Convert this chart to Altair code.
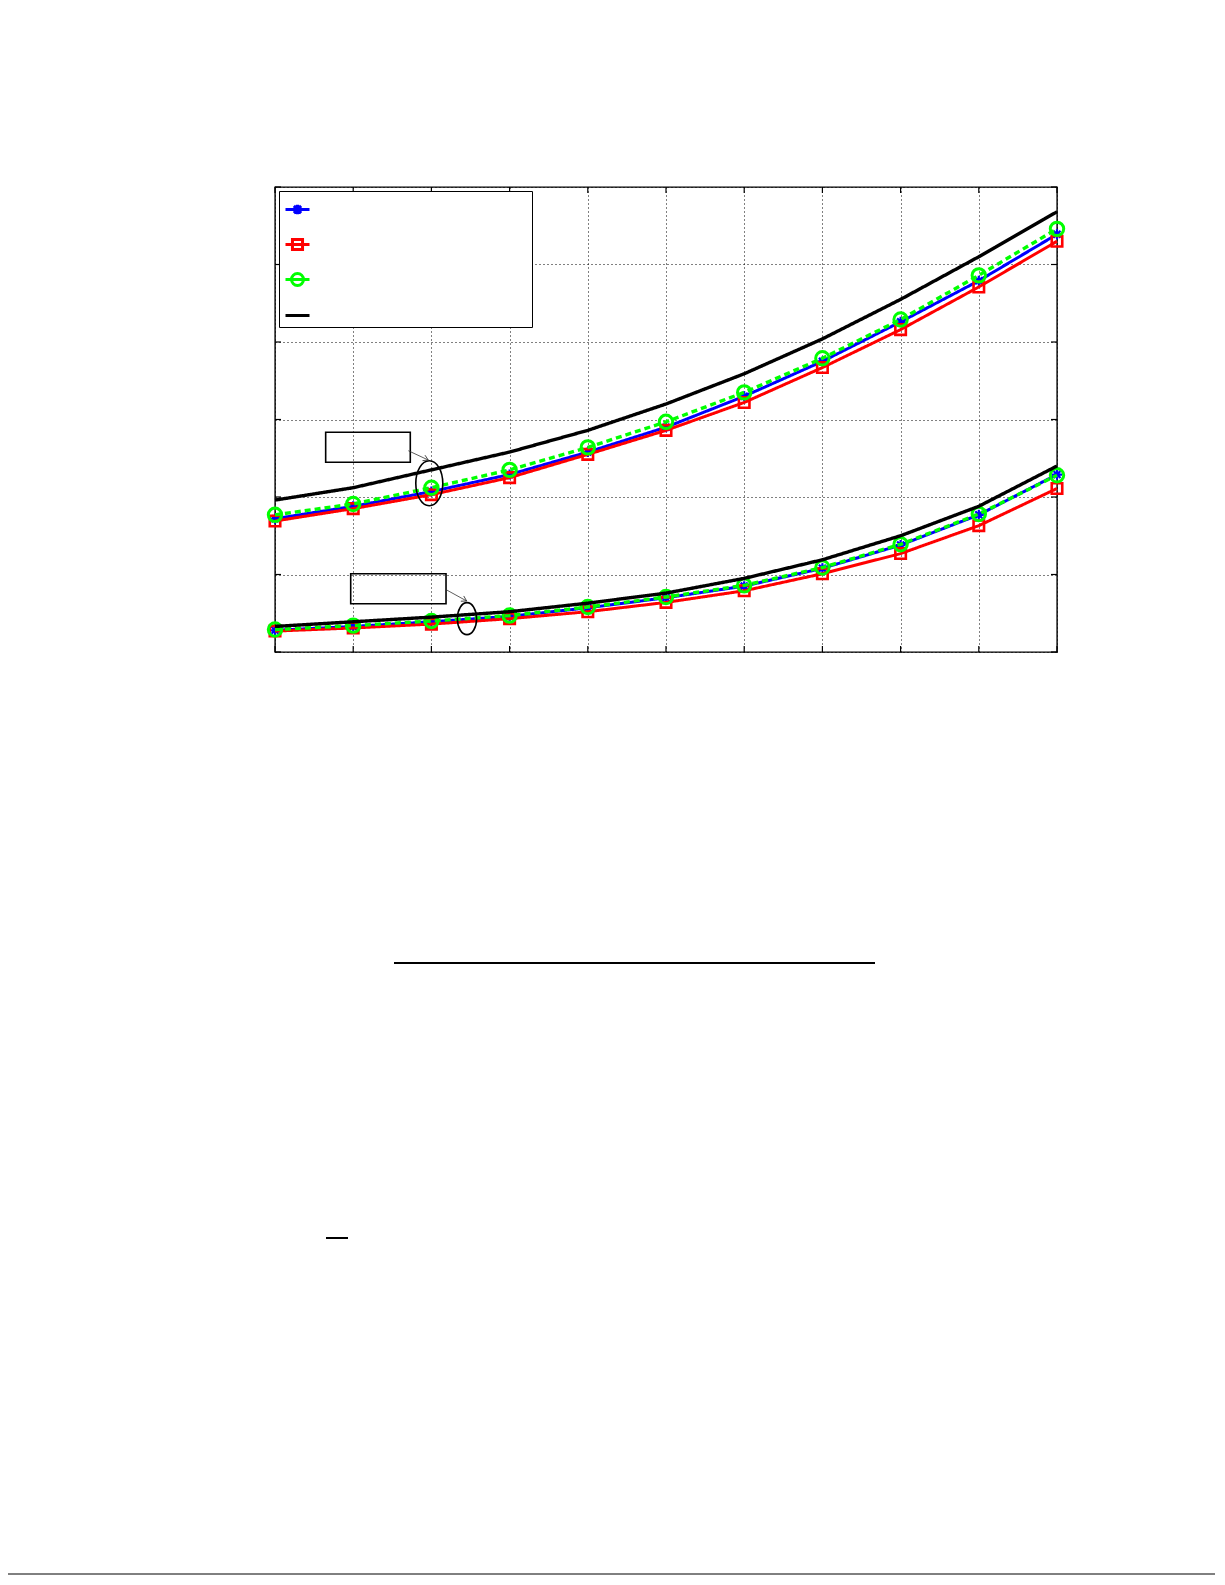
import altair as alt
import pandas as pd

# ---------------- data ----------------
x_vals = [0, 1, 2, 3, 4, 5, 6, 7, 8, 9, 10]
x_ticks = [0, 1, 2, 3, 4, 5, 6, 7, 8, 9, 10]
y_ticks = [0, 1, 2, 3, 4, 5, 6]

series_names = ["Series 1", "Series 2", "Series 3", "Series 4"]
series_colors = ["#0000FF", "#FF0000", "#00FF00", "#000000"]

upper_blue = [1.72, 1.88, 2.07, 2.29, 2.58, 2.90, 3.30, 3.75, 4.26, 4.79, 5.39]
upper_red = [1.69, 1.85, 2.03, 2.25, 2.55, 2.86, 3.22, 3.67, 4.16, 4.71, 5.30]
upper_green = [1.77, 1.91, 2.12, 2.35, 2.64, 2.97, 3.35, 3.79, 4.29, 4.86, 5.46]
upper_black = [1.96, 2.12, 2.35, 2.58, 2.86, 3.20, 3.59, 4.04, 4.55, 5.10, 5.68]

lower_blue = [0.28, 0.33, 0.39, 0.46, 0.57, 0.70, 0.85, 1.08, 1.38, 1.77, 2.29]
lower_red = [0.27, 0.31, 0.36, 0.43, 0.52, 0.64, 0.79, 1.01, 1.27, 1.63, 2.11]
lower_green = [0.29, 0.34, 0.40, 0.47, 0.58, 0.71, 0.86, 1.09, 1.39, 1.78, 2.28]
lower_black = [0.33, 0.39, 0.45, 0.52, 0.63, 0.76, 0.95, 1.19, 1.50, 1.88, 2.40]

# annotation boxes (data units) and ellipses / arrows
box_x1 = [0.648, 0.968]
box_x2 = [1.730, 2.187]
box_y1 = [2.835, 1.010]
box_y2 = [2.448, 0.623]
ell_x = [1.973, 2.455]
ell_y = [2.177, 0.430]
ell_size = [2025, 1024]
arr_x1 = [1.705, 2.196]
arr_y1 = [2.597, 0.800]
arr_x2 = [1.960, 2.451]
arr_y2 = [2.477, 0.658]
arr_angle = [25, 29]

# ---------------- tables ----------------
series_data = {
    "Series 1": (upper_blue, lower_blue),
    "Series 2": (upper_red, lower_red),
    "Series 3": (upper_green, lower_green),
    "Series 4": (upper_black, lower_black),
}
rows = []
for name, (up, lo) in series_data.items():
    for xv, yv in zip(x_vals, up):
        rows.append({"series": name, "group": "upper", "x": xv, "y": yv})
    for xv, yv in zip(x_vals, lo):
        rows.append({"series": name, "group": "lower", "x": xv, "y": yv})
df = pd.DataFrame(rows)

W, H = 782, 465

xscale = alt.Scale(domain=[0, 10], nice=False, zero=False)
yscale = alt.Scale(domain=[0, 6], nice=False, zero=False)
X = alt.X("x:Q", scale=xscale,
          axis=alt.Axis(values=x_ticks, labels=False, ticks=False, domain=False,
                        grid=True, gridDash=[1, 3], gridColor="black",
                        gridOpacity=1, gridWidth=1, title=None))
Y = alt.Y("y:Q", scale=yscale,
          axis=alt.Axis(values=y_ticks, labels=False, ticks=False, domain=False,
                        grid=True, gridDash=[1, 3], gridColor="black",
                        gridOpacity=1, gridWidth=1, title=None))

layers = []

# inward tick marks (MATLAB style box)
xt = pd.DataFrame({"x": x_ticks})
yt = pd.DataFrame({"y": y_ticks})
layers.append(alt.Chart(xt).mark_rule(color="black", strokeWidth=1.2).encode(
    x=X, y=alt.value(H), y2=alt.value(H - 6)))
layers.append(alt.Chart(xt).mark_rule(color="black", strokeWidth=1.2).encode(
    x=X, y=alt.value(0), y2=alt.value(6)))
layers.append(alt.Chart(yt).mark_rule(color="black", strokeWidth=1.2).encode(
    y=Y, x=alt.value(0), x2=alt.value(6)))
layers.append(alt.Chart(yt).mark_rule(color="black", strokeWidth=1.2).encode(
    y=Y, x=alt.value(W), x2=alt.value(W - 6)))

star_path = "M-1,0H1M0,-1V1M-0.7,-0.7L0.7,0.7M-0.7,0.7L0.7,-0.7"

styles = {
    "Series 1": dict(color="#0000FF", width=3, dash=[1, 0], shape=star_path, size=100, sw=2.2),
    "Series 2": dict(color="#FF0000", width=3, dash=[1, 0], shape="square", size=110, sw=2.6),
    "Series 3": dict(color="#00FF00", width=3.4, dash=[6, 4], shape="circle", size=180, sw=3),
    "Series 4": dict(color="#000000", width=3.4, dash=[1, 0], shape=None, size=0, sw=0),
}

for name in series_names:
    st = styles[name]
    sub = alt.Chart(df).transform_filter(alt.datum.series == name)
    layers.append(sub.mark_line(color=st["color"], strokeWidth=st["width"],
                                strokeDash=st["dash"]).encode(
        x=X, y=Y, detail="group:N", order="x:Q"))
    if st["shape"] is not None:
        layers.append(sub.mark_point(shape=st["shape"], size=st["size"], filled=False,
                                     color=st["color"], strokeWidth=st["sw"],
                                     opacity=1).encode(x=X, y=Y))

# annotations
boxes = pd.DataFrame({"x": box_x1, "x2": box_x2, "y": box_y1, "y2": box_y2})
layers.append(alt.Chart(boxes).mark_rect(filled=False, color="black", strokeWidth=1.6).encode(
    x=X, x2="x2:Q", y=Y, y2="y2:Q"))

ell = pd.DataFrame({"x": ell_x, "y": ell_y, "s": ell_size})
ellipse_path = "M0,-1A0.6,1,0,1,1,0,1A0.6,1,0,1,1,0,-1Z"
layers.append(alt.Chart(ell).mark_point(shape=ellipse_path, filled=False, color="black",
                                        strokeWidth=1.6, opacity=1).encode(
    x=X, y=Y, size=alt.Size("s:Q", scale=None, legend=None)))

arr = pd.DataFrame({"x": arr_x1, "y": arr_y1, "x2": arr_x2, "y2": arr_y2, "a": arr_angle})
layers.append(alt.Chart(arr).mark_rule(color="#333333", strokeWidth=0.8).encode(
    x=X, y=Y, x2="x2:Q", y2="y2:Q"))
head_path = "M-1,-0.6L0,0L-1,0.6"
layers.append(alt.Chart(arr).mark_point(shape=head_path, filled=False, color="#333333",
                                        strokeWidth=0.8, size=100, opacity=1).encode(
    x=alt.X("x2:Q", scale=xscale), y=alt.Y("y2:Q", scale=yscale),
    angle=alt.Angle("a:Q", scale=None)))

# legend (symbols drawn by Vega's legend)
legend_paths = [
    "M-1,0H1M-0.4,0H0.4M0,-0.4V0.4M-0.3,-0.3L0.3,0.3M-0.3,0.3L0.3,-0.3",
    "M-1,0H1M-0.42,-0.42H0.42V0.42H-0.42Z",
    "M-1,0H1M0.5,0A0.5,0.5,0,1,1,-0.5,0A0.5,0.5,0,1,1,0.5,0",
    "M-1,0H1",
]
leg = alt.Legend(title=None, orient="none", legendX=4, legendY=4, labelExpr="''",
                 labelOffset=216, padding=5, rowPadding=10, symbolSize=576,
                 symbolStrokeWidth=3, symbolFillColor="transparent",
                 strokeColor="black", fillColor="white")
layers.append(alt.Chart(df).transform_filter("false").mark_point(
    filled=False, size=576, strokeWidth=3, opacity=1).encode(
    color=alt.Color("series:N", scale=alt.Scale(domain=series_names, range=series_colors),
                    legend=leg),
    shape=alt.Shape("series:N", scale=alt.Scale(domain=series_names, range=legend_paths),
                    legend=leg)))

# page rules outside the plot (fraction bar, overline, footer)
one = pd.DataFrame({"a": [0]})
layers.append(alt.Chart(one).mark_rule(color="black", strokeWidth=2).encode(
    x=alt.value(119), x2=alt.value(600), y=alt.value(776)))
layers.append(alt.Chart(one).mark_rule(color="black", strokeWidth=2).encode(
    x=alt.value(51), x2=alt.value(73), y=alt.value(1051)))
layers.append(alt.Chart(one).mark_rule(color="black", strokeWidth=1).encode(
    x=alt.value(-267), x2=alt.value(940), y=alt.value(1387)))

chart = alt.layer(*layers).resolve_scale(
    color="independent", shape="independent", size="independent"
).properties(
    width=W, height=H,
    padding={"left": 267, "top": 179, "right": 158, "bottom": 923},
    autosize=alt.AutoSizeParams(type="none"),
).configure_view(stroke="black", strokeWidth=1.4)

chart.save("out.html", embed_options={"renderer": "svg", "actions": False})
